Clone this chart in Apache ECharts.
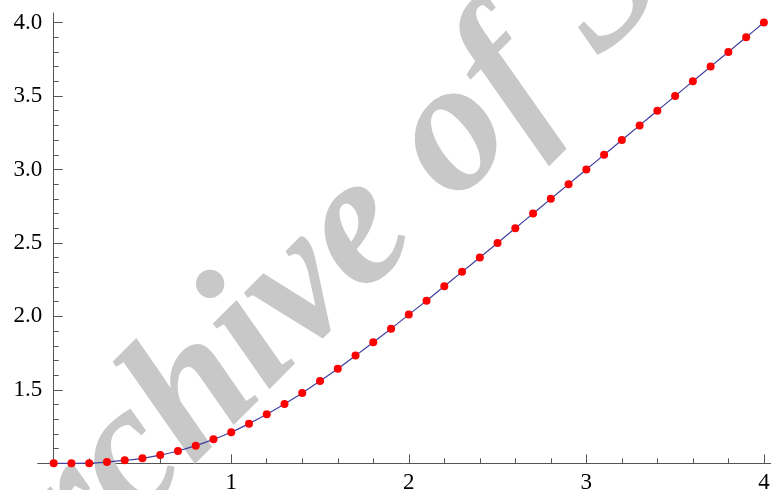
<!DOCTYPE html>
<html>
<head>
<meta charset="utf-8">
<script src="https://cdn.jsdelivr.net/npm/echarts@6/dist/echarts.min.js"></script>
<style>
html,body{margin:0;padding:0;background:#fff;}
#chart{width:771px;height:490px;}
</style>
</head>
<body>
<div id="chart"></div>
<script>
const xValues = [0.0,0.1,0.2,0.3,0.4,0.5,0.6,0.7,0.8,0.9,1.0,1.1,1.2,1.3,1.4,1.5,1.6,1.7,1.8,1.9,2.0,2.1,2.2,2.3,2.4,2.5,2.6,2.7,2.8,2.9,3.0,3.1,3.2,3.3,3.4,3.5,3.6,3.7,3.8,3.9,4.0];
const yValues = [1.000,1.000,1.001,1.008,1.020,1.034,1.056,1.084,1.120,1.163,1.211,1.270,1.334,1.404,1.479,1.560,1.644,1.733,1.824,1.916,2.012,2.107,2.205,2.303,2.401,2.500,2.600,2.700,2.800,2.900,3.000,3.100,3.200,3.300,3.400,3.500,3.600,3.700,3.800,3.900,4.000];
const xMajorTicks = [1,2,3,4];
const xMinorTicks = [0.2,0.4,0.6,0.8,1.2,1.4,1.6,1.8,2.2,2.4,2.6,2.8,3.2,3.4,3.6,3.8];
const yMajorTicks = [1.5,2.0,2.5,3.0,3.5,4.0];
const yMinorTicks = [1.1,1.2,1.3,1.4,1.6,1.7,1.8,1.9,2.1,2.2,2.3,2.4,2.6,2.7,2.8,2.9,3.1,3.2,3.3,3.4,3.6,3.7,3.8,3.9];
const watermarkText = 'Archive of SID';

const points = xValues.map((x, i) => [x, yValues[i]]);
const axisColor = '#555555';
const serif = 'Liberation Serif';
const labelFont = {fontFamily: serif, fontSize: 23, color: '#000'};

const chart = echarts.init(document.getElementById('chart'), null, {renderer: 'canvas'});
chart.setOption({
  animation: false,
  backgroundColor: '#ffffff',
  grid: {left: 37.7, right: 0, top: 13, bottom: 26.7, containLabel: false, outerBoundsMode: 'none'},
  xAxis: [
    {
      type: 'value', min: -0.09, max: 4.04, position: 'bottom',
      axisLine: {show: true, onZero: false, lineStyle: {color: axisColor, width: 1}},
      axisTick: {show: true, inside: true, length: 9, customValues: xMajorTicks, lineStyle: {color: axisColor, width: 1}},
      axisLabel: Object.assign({show: true, margin: 8, customValues: xMajorTicks, formatter: v => String(v), hideOverlap: false}, labelFont),
      splitLine: {show: false}
    },
    {
      type: 'value', min: -0.09, max: 4.04, position: 'bottom',
      axisLine: {show: false, onZero: false},
      axisTick: {show: true, inside: true, length: 5, customValues: xMinorTicks, lineStyle: {color: axisColor, width: 1}},
      axisLabel: {show: false},
      splitLine: {show: false}
    }
  ],
  yAxis: [
    {
      type: 'value', min: 1, max: 4.065, position: 'left',
      axisLine: {show: true, onZero: true, lineStyle: {color: axisColor, width: 1}},
      axisTick: {show: true, inside: true, length: 9, customValues: yMajorTicks, lineStyle: {color: axisColor, width: 1}},
      axisLabel: Object.assign({show: true, margin: -4.5, customValues: yMajorTicks, formatter: v => v.toFixed(1)}, labelFont),
      splitLine: {show: false}
    },
    {
      type: 'value', min: 1, max: 4.065, position: 'left',
      axisLine: {show: false, onZero: true},
      axisTick: {show: true, inside: true, length: 5, customValues: yMinorTicks, lineStyle: {color: axisColor, width: 1}},
      axisLabel: {show: false},
      splitLine: {show: false}
    }
  ],
  graphic: [{
    type: 'text', x: 372, y: 218, rotation: 45 * Math.PI / 180, z: 1, silent: true,
    style: {
      text: watermarkText,
      fontFamily: serif,
      fontStyle: 'italic',
      fontWeight: 'bold',
      fontSize: 188,
      fill: '#c8c8c8',
      textAlign: 'center',
      textVerticalAlign: 'middle'
    }
  }],
  series: [
    {
      type: 'line', data: points, xAxisIndex: 0, yAxisIndex: 0,
      smooth: 0.3, showSymbol: false, z: 3,
      lineStyle: {color: '#4040a0', width: 1.2}
    },
    {
      type: 'scatter', data: points, xAxisIndex: 0, yAxisIndex: 0,
      symbol: 'circle', symbolSize: 8, z: 4,
      itemStyle: {color: '#ff0000', opacity: 1}
    }
  ]
});
</script>
</body>
</html>
